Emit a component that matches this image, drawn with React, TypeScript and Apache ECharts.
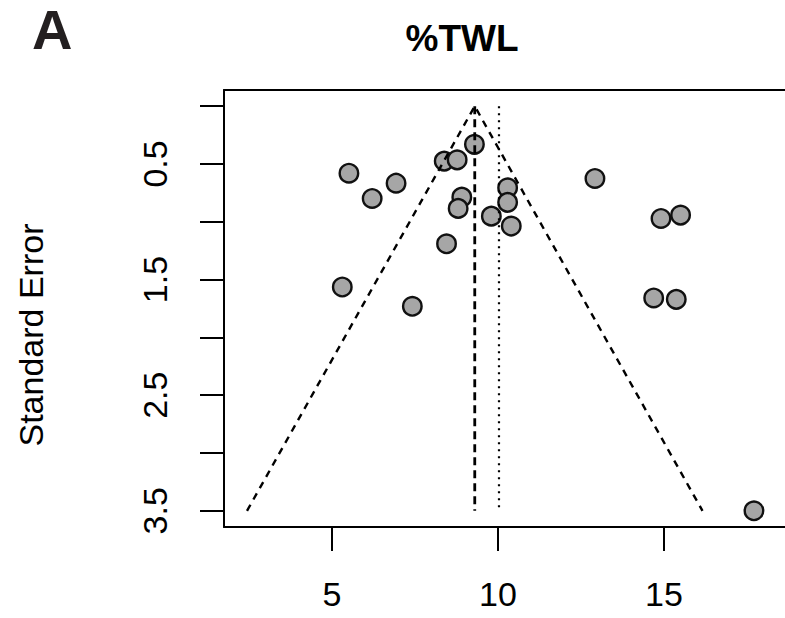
import React, { useEffect, useRef } from "react";
import * as echarts from "echarts";

const FONT = '"Liberation Sans", Arial, Helvetica, sans-serif';

// tick values
const xTicks = [5, 10, 15];
const yTicks = [0, 0.5, 1, 1.5, 2, 2.5, 3, 3.5];
const yLabels = [0.5, 1.5, 2.5, 3.5];

// study estimates (%TWL) and their standard errors
const estimates = [9.29, 8.38, 8.77, 5.51, 6.93, 6.21, 8.91, 8.8, 9.8, 10.29, 10.29, 10.4, 8.45, 5.31, 7.42, 12.92, 14.91, 15.5, 14.69, 15.37, 17.71];
const standardErrors = [0.33, 0.475, 0.464, 0.58, 0.666, 0.798, 0.787, 0.884, 0.951, 0.706, 0.832, 1.037, 1.19, 1.564, 1.731, 0.625, 0.971, 0.942, 1.659, 1.671, 3.5];

// funnel (pseudo confidence region)
const funnelCenter = 9.3;
const funnelLeftAtMax = 2.44;
const funnelRightAtMax = 16.16;
const seMax = 3.5;
const refLine = 10.03;

const X_MIN = 1.747;
const X_MAX = 18.645;
const Y_MIN = -0.14;
const Y_MAX = 3.64;

export default function App() {
  const ref = useRef<HTMLDivElement>(null);
  useEffect(() => {
    const chart = echarts.init(ref.current!, null, { renderer: "svg" });
    const points = estimates.map((e, i) => [e, standardErrors[i]]);
    const line = { color: "#000", width: 2 };
    chart.setOption({
      animation: false,
      backgroundColor: "#ffffff",
      grid: {
        left: 224,
        top: 90,
        right: 0,
        height: 437,
        show: false,
        outerBoundsMode: "none",
      },
      xAxis: [
        {
          type: "value",
          position: "bottom",
          min: X_MIN,
          max: X_MAX,
          axisLine: { show: true, onZero: false, lineStyle: line },
          axisTick: { show: true, length: 24, customValues: xTicks, lineStyle: line },
          axisLabel: { show: true, customValues: xTicks, fontSize: 34, color: "#000", margin: 50, fontFamily: FONT },
          splitLine: { show: false },
        },
        {
          type: "value",
          position: "top",
          min: X_MIN,
          max: X_MAX,
          axisLine: { show: true, onZero: false, lineStyle: line },
          axisTick: { show: false },
          axisLabel: { show: false },
          splitLine: { show: false },
        },
      ],
      yAxis: {
        type: "value",
        inverse: true,
        min: Y_MIN,
        max: Y_MAX,
        axisLine: { show: true, onZero: false, lineStyle: line },
        axisTick: { show: true, length: 24, customValues: yTicks, lineStyle: line },
        axisLabel: {
          show: true,
          customValues: yLabels,
          rotate: 90,
          fontSize: 34,
          color: "#000",
          margin: 52,
          fontFamily: FONT,
          formatter: (v: number) => v.toFixed(1),
        },
        splitLine: { show: false },
      },
      series: [
        {
          type: "scatter",
          data: points,
          symbol: "circle",
          symbolSize: 18.5,
          itemStyle: { color: "#a6a6a6", borderColor: "#111", borderWidth: 2.4, opacity: 1 },
          emphasis: { disabled: true },
          z: 2,
        },
        {
          type: "line",
          data: [
            [funnelLeftAtMax, seMax],
            [funnelCenter, 0],
            [funnelRightAtMax, seMax],
          ],
          symbol: "none",
          lineStyle: { color: "#000", width: 2.4, type: [7, 6], join: "miter" },
          emphasis: { disabled: true },
          z: 3,
        },
        {
          type: "line",
          data: [
            [funnelCenter, 0],
            [funnelCenter, seMax],
          ],
          symbol: "none",
          lineStyle: { color: "#000", width: 2.8, type: [8, 5] },
          emphasis: { disabled: true },
          z: 3,
        },
        {
          type: "line",
          data: [
            [refLine, 0],
            [refLine, seMax],
          ],
          symbol: "none",
          lineStyle: { color: "#000", width: 2.2, type: [2, 5] },
          emphasis: { disabled: true },
          z: 3,
        },
      ],
      graphic: [
        {
          type: "text",
          x: 32,
          y: 1,
          style: { text: "A", fontSize: 56, fontWeight: "bold", fontFamily: FONT, fill: "#231f20", verticalAlign: "top" },
        },
        {
          type: "text",
          x: 462,
          y: 38,
          style: { text: "%TWL", fontSize: 37, fontWeight: "bold", fontFamily: FONT, fill: "#000", align: "center", verticalAlign: "middle" },
        },
        {
          type: "text",
          x: 31,
          y: 335,
          rotation: Math.PI / 2,
          style: { text: "Standard Error", fontSize: 34, fontFamily: FONT, fill: "#000", align: "center", verticalAlign: "middle" },
        },
      ],
    });
    return () => chart.dispose();
  }, []);
  return (
    <div
      ref={ref}
      style={{ position: "absolute", left: 0, top: 0, width: 785, height: 618, background: "#fff" }}
    />
  );
}
